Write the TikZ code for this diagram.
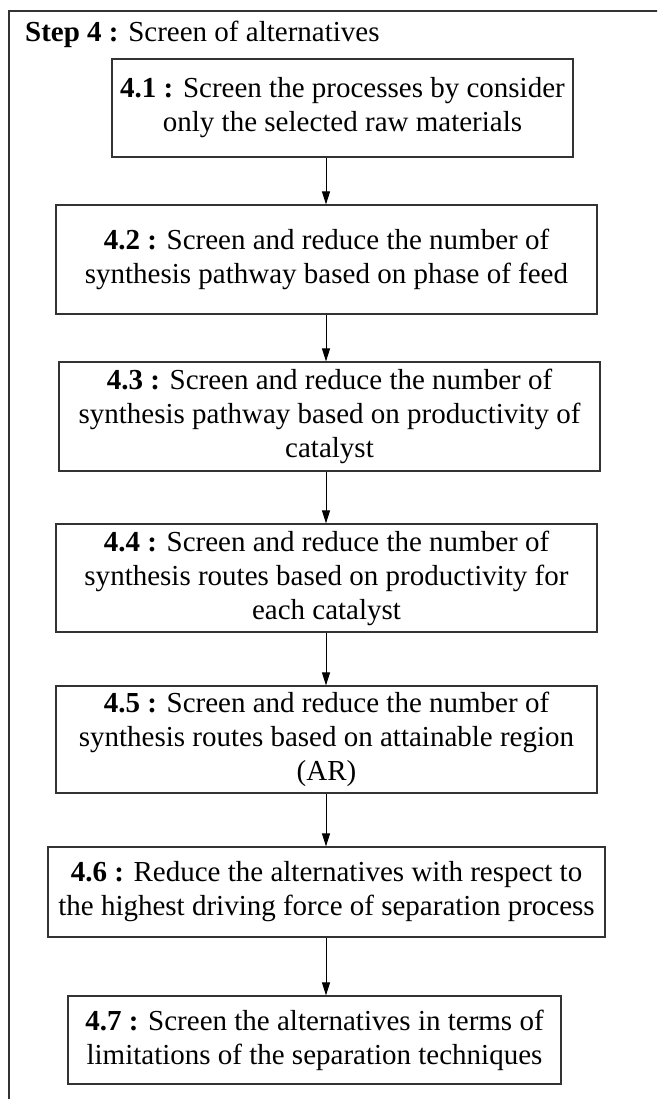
\documentclass[tikz,border=0pt]{standalone}
\usepackage{fontspec}
\setmainfont{Liberation Serif}
\usetikzlibrary{arrows.meta}
\definecolor{edge}{HTML}{333333}
\begin{document}
\begin{tikzpicture}[x=1pt,y=-1pt,
  txt/.style={font=\fontsize{29}{34}\selectfont},
  stepbox/.style={txt, draw=edge, line width=1.2pt, inner sep=0pt, align=center},
  flow/.style={draw=black, line width=1pt, -{Triangle[width=8pt,length=13pt]}}]
\clip (0,0) rectangle (657,1099);
% outer frame of the step
\draw[edge, line width=1.5pt] (670,11) -- (9,11) -- (9,1110);
\node[txt, anchor=base west, inner sep=0pt] (title) at (25,42) {\textbf{Step 4 :} Screen of alternatives};
% sub-steps
\node[stepbox, minimum width=461pt, minimum height=98pt] (s41) at (342.5,108)
  {\textbf{4.1 :} Screen the processes by consider\\only the selected raw materials};
\node[stepbox, minimum width=541pt, minimum height=109pt] (s42) at (326.5,259.5)
  {\textbf{4.2 :} Screen and reduce the number of\\synthesis pathway based on phase of feed};
\node[stepbox, minimum width=541pt, minimum height=109pt] (s43) at (329.5,416.5)
  {\textbf{4.3 :} Screen and reduce the number of\\synthesis pathway based on productivity of\\catalyst};
\node[stepbox, minimum width=541pt, minimum height=108pt] (s44) at (326.5,578)
  {\textbf{4.4 :} Screen and reduce the number of\\synthesis routes based on productivity for\\each catalyst};
\node[stepbox, minimum width=541pt, minimum height=107pt] (s45) at (326.5,739.5)
  {\textbf{4.5 :} Screen and reduce the number of\\synthesis routes based on attainable region\\(AR)};
\node[stepbox, minimum width=557pt, minimum height=90pt] (s46) at (326.5,892)
  {\textbf{4.6 :} Reduce the alternatives with respect to\\the highest driving force of separation process};
\node[stepbox, minimum width=493pt, minimum height=88pt] (s47) at (314.5,1040)
  {\textbf{4.7 :} Screen the alternatives in terms of\\limitations of the separation techniques};
% connectors
\coordinate (ax) at (326,0);
\draw[flow] (s41.south -| ax) -- (s42.north -| ax);
\draw[flow] (s42.south -| ax) -- (s43.north -| ax);
\draw[flow] (s43.south -| ax) -- (s44.north -| ax);
\draw[flow] (s44.south -| ax) -- (s45.north -| ax);
\draw[flow] (s45.south -| ax) -- (s46.north -| ax);
\draw[flow] (s46.south -| ax) -- (s47.north -| ax);
\end{tikzpicture}
\end{document}
